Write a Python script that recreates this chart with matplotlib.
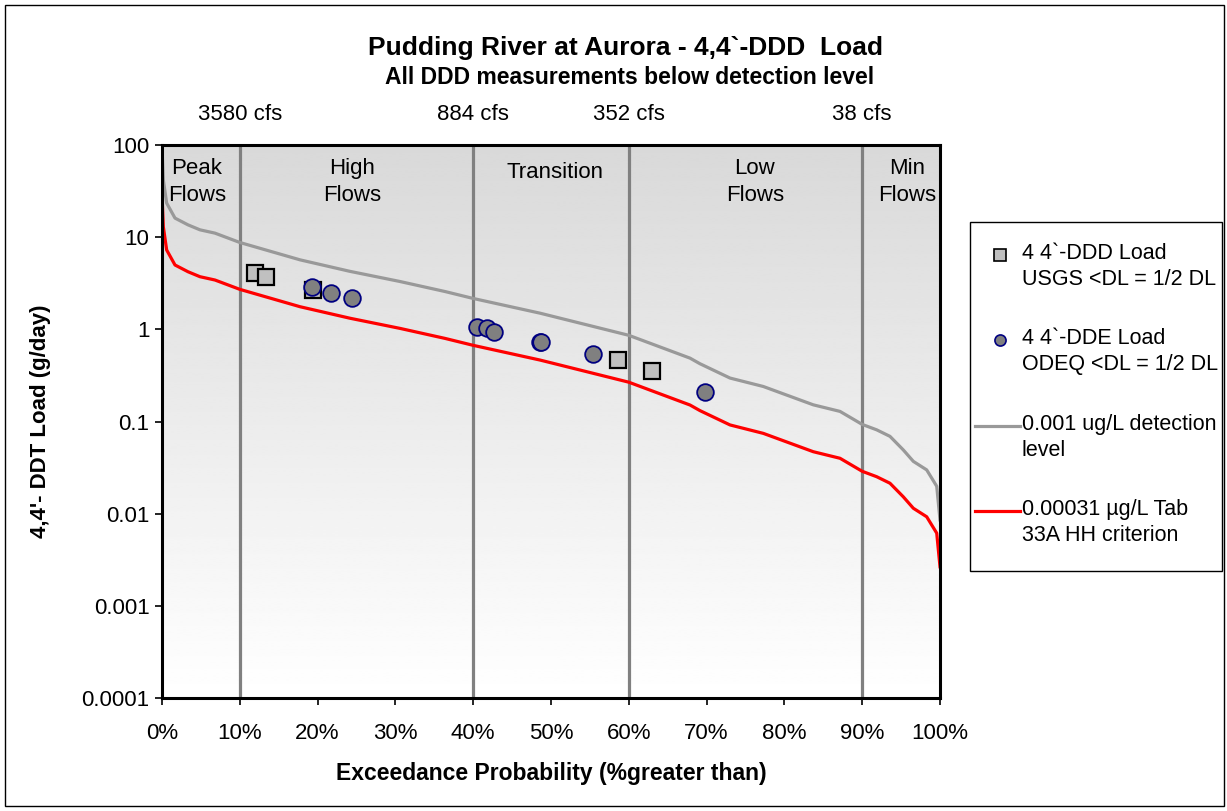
import numpy as np
import matplotlib
matplotlib.use("Agg")
import matplotlib.pyplot as plt
from matplotlib.patches import Rectangle
from matplotlib.lines import Line2D

plt.rcParams['font.family'] = ['Liberation Sans', 'DejaVu Sans']

# Flow duration curve for the Pudding River at Aurora
exceed_pct = [0, 0.17, 0.6, 1.67, 3.34, 4.88, 6.81, 10, 17.74, 24.16, 30.59,
              36.4, 40, 48.59, 60, 67.87, 69.15, 73.01, 77.29, 83.71, 87.15,
              90, 91.86, 93.57, 95.28, 96.57, 98.29, 99.58, 100]
flow_cfs = [37800, 17100, 9570, 6580, 5560, 4910, 4520, 3580, 2320, 1740, 1350,
            1050, 884, 612, 352, 199, 173, 121, 98, 62, 52.6,
            38, 33.2, 28.2, 20.1, 15.1, 12.2, 8.1, 3.5]

# concentrations (ug/L) used for the load curves
detect_conc = 0.001
criterion_conc = 0.00031
# cfs * ug/L -> g/day
CFS_UGL_TO_GDAY = 28.3168 * 86400 / 1e6

# measured loads (g/day), non-detects at 1/2 DL
ddd_pct = [11.95, 13.33, 19.4, 58.65, 62.98]
ddd_load = [4.08, 3.72, 2.67, 0.464, 0.356]
dde_pct = [19.24, 21.72, 24.46, 40.45, 41.74, 42.67, 48.59, 48.7, 55.44, 69.8]
dde_load = [2.86, 2.50, 2.17, 1.07, 1.03, 0.93, 0.735, 0.72, 0.54, 0.21]

# flow zones
zone_pct = [10, 40, 60, 90]
zone_flow = ['3580 cfs', '884 cfs', '352 cfs', '38 cfs']
zone_names = ['Peak\nFlows', 'High\nFlows', 'Transition', 'Low\nFlows', 'Min\nFlows']
zone_label_x = [4.5, 24.4, 50.5, 76.2, 95.8]

W, H = 1227, 811
fig = plt.figure(figsize=(W / 100, H / 100), dpi=100)
ax = fig.add_axes([162 / W, 1 - 698 / H, (940 - 162) / W, (698 - 145) / H])

# shaded plot area, darker at the top
grad = np.linspace(0.85, 1.0, 256)[:, None]
ax.imshow(grad, extent=(0, 1, 0, 1), transform=ax.transAxes, aspect='auto',
          cmap='gray', vmin=0, vmax=1, zorder=0, interpolation='bilinear')

flow = np.array(flow_cfs)
detect_load = flow * detect_conc * CFS_UGL_TO_GDAY
crit_load = flow * criterion_conc * CFS_UGL_TO_GDAY

for p in zone_pct:
    ax.axvline(p, color='#808080', lw=2.3, zorder=1)

ax.plot(exceed_pct, detect_load, color='#999999', lw=2.3, zorder=2)
ax.plot(exceed_pct, crit_load, color='#ff0000', lw=2.3, zorder=2)

ax.plot(ddd_pct, ddd_load, ls='none', marker='s', ms=11.5, mfc='#c0c0c0',
        mec='black', mew=1.6, zorder=3)
ax.plot(dde_pct, dde_load, ls='none', marker='o', ms=12, mfc='#808080',
        mec='#000080', mew=1.3, zorder=4)

ax.set_yscale('log')
ax.set_xlim(0, 100)
ax.set_ylim(1e-4, 100)
ax.set_xticks(np.arange(0, 101, 10))
ax.set_xticklabels([f'{v}%' for v in range(0, 101, 10)])
ax.set_yticks([1e-4, 1e-3, 1e-2, 1e-1, 1, 10, 100])
ax.set_yticklabels(['0.0001', '0.001', '0.01', '0.1', '1', '10', '100'])
ax.minorticks_off()
ax.tick_params(axis='both', labelsize=16, direction='out', length=5, width=1.2)
ax.tick_params(axis='x', pad=13)
ax.tick_params(axis='y', pad=4)
for s in ax.spines.values():
    s.set_linewidth(2.2)
    s.set_color('black')

ax.set_xlabel('Exceedance Probability (%greater than)', fontsize=16.5,
              fontweight='bold', labelpad=13)
ax.set_ylabel("4,4'- DDT Load (g/day)", fontsize=16, fontweight='bold',
              labelpad=22)

# zone names and flow thresholds
for x, name in zip(zone_label_x, zone_names):
    yy = 0.95 if '\n' not in name else 0.933
    ax.text(x, yy, name, transform=ax.get_xaxis_transform(), ha='center',
            va='center', fontsize=16, linespacing=1.35, zorder=5)
for p, lab in zip(zone_pct, zone_flow):
    ax.text(p, 1.055, lab, transform=ax.get_xaxis_transform(), ha='center',
            va='center', fontsize=16)

fig.text(626 / W, 1 - 48 / H, 'Pudding River at Aurora - 4,4`-DDD  Load',
         ha='center', va='center', fontsize=19, fontweight='bold')
fig.text(630 / W, 1 - 78 / H, 'All DDD measurements below detection level',
         ha='center', va='center', fontsize=16.5, fontweight='bold')

# legend box
fig.patches.append(Rectangle((970 / W, 1 - 571 / H), 252 / W, 349 / H,
                             transform=fig.transFigure, fill=False,
                             edgecolor='black', lw=1))
entries = [
    (255, Line2D([1000 / W], [1 - 255 / H], ls='none', marker='s', ms=8,
                 mfc='#c0c0c0', mec='black', mew=1.2),
     '4 4`-DDD Load\nUSGS <DL = 1/2 DL'),
    (340, Line2D([1000 / W], [1 - 340 / H], ls='none', marker='o', ms=8,
                 mfc='#808080', mec='#000080', mew=1.2),
     '4 4`-DDE Load\nODEQ <DL = 1/2 DL'),
    (426, Line2D([975 / W, 1020 / W], [1 - 426 / H] * 2, color='#999999', lw=2.3),
     '0.001 ug/L detection\nlevel'),
    (511, Line2D([975 / W, 1020 / W], [1 - 511 / H] * 2, color='#ff0000', lw=2.3),
     '0.00031 µg/L Tab\n33A HH criterion'),
]
for y0, handle, label in entries:
    handle.set_transform(fig.transFigure)
    fig.lines.append(handle)
    fig.text(1022 / W, 1 - (y0 - 12) / H, label, ha='left', va='top',
             fontsize=15.5, linespacing=1.3)

# outer border
fig.patches.append(Rectangle((5 / W, 5 / H), 1219 / W, 801 / H,
                             transform=fig.transFigure, fill=False,
                             edgecolor='black', lw=1))

fig.savefig('out.png', dpi=100)
